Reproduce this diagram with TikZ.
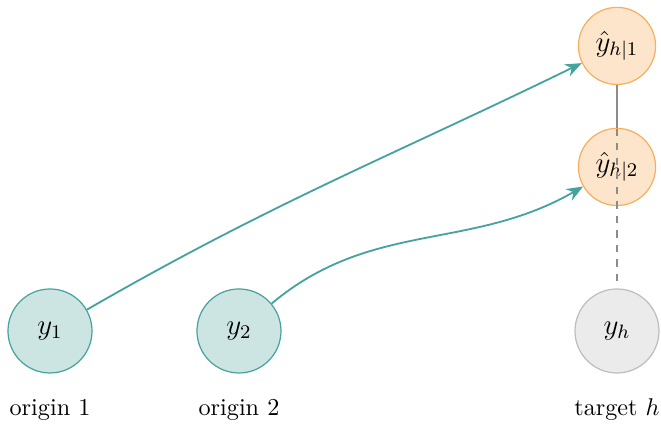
\documentclass[tikz,border=0pt]{standalone}
\usepackage{amsmath, amssymb}
\usepackage{tikz}
\usetikzlibrary{arrows.meta, positioning, calc}
\definecolor{tealc}{HTML}{45A29E}
\definecolor{tealf}{HTML}{CCE5E3}
\definecolor{orgc}{HTML}{F7AE5E}
\definecolor{orgf}{HTML}{FDE5CC}
\definecolor{grayc}{HTML}{BDBDBD}
\definecolor{grayf}{HTML}{EBEBEB}
\newcommand{\obsunit}[5]{%
  \node[circle, draw=#3c, fill=#3f, line width=0.5pt, font=\large,
        minimum size=12.2mm, inner sep=0pt] (#1) at #2 {#4};
  \node (#1lab) at ($#2+(0,-1.147)$) {#5};
}
\newcommand{\fcunit}[3]{%
  \node[circle, draw=orgc, fill=orgf, line width=0.5pt, font=\large,
        minimum size=11.2mm, inner sep=0pt] (#1) at #2 {#3};
}

\begin{document}
\begin{tikzpicture}[>={Stealth[length=2.4mm, width=1.9mm]}, line width=0.75pt]
        \useasboundingbox (0,0) rectangle (9.598,6.156);
        \obsunit{y1}{(0.726,1.350)}{teal}{$y_1$}{origin 1}
        \obsunit{y2}{(3.470,1.350)}{teal}{$y_2$}{origin 2}
        \obsunit{yh}{(8.959,1.350)}{gray}{$y_h$}{target $h$}
        \fcunit{f1}{(8.959,5.489)}{$\hat{y}_{h|1}$}
        \fcunit{f2}{(8.959,3.732)}{$\hat{y}_{h|2}$}
        \draw[black!45, line width=0.45pt] (f1) -- (f2);
        \draw[black!45, line width=0.45pt, dashed] (f1.south) -- (yh.north);
        \draw[->, tealc] (y1) to[out=30, in=206] (f1);
        \draw[->, tealc] (y2) to[out=40, in=210] (f2);
      \end{tikzpicture}
\end{document}
